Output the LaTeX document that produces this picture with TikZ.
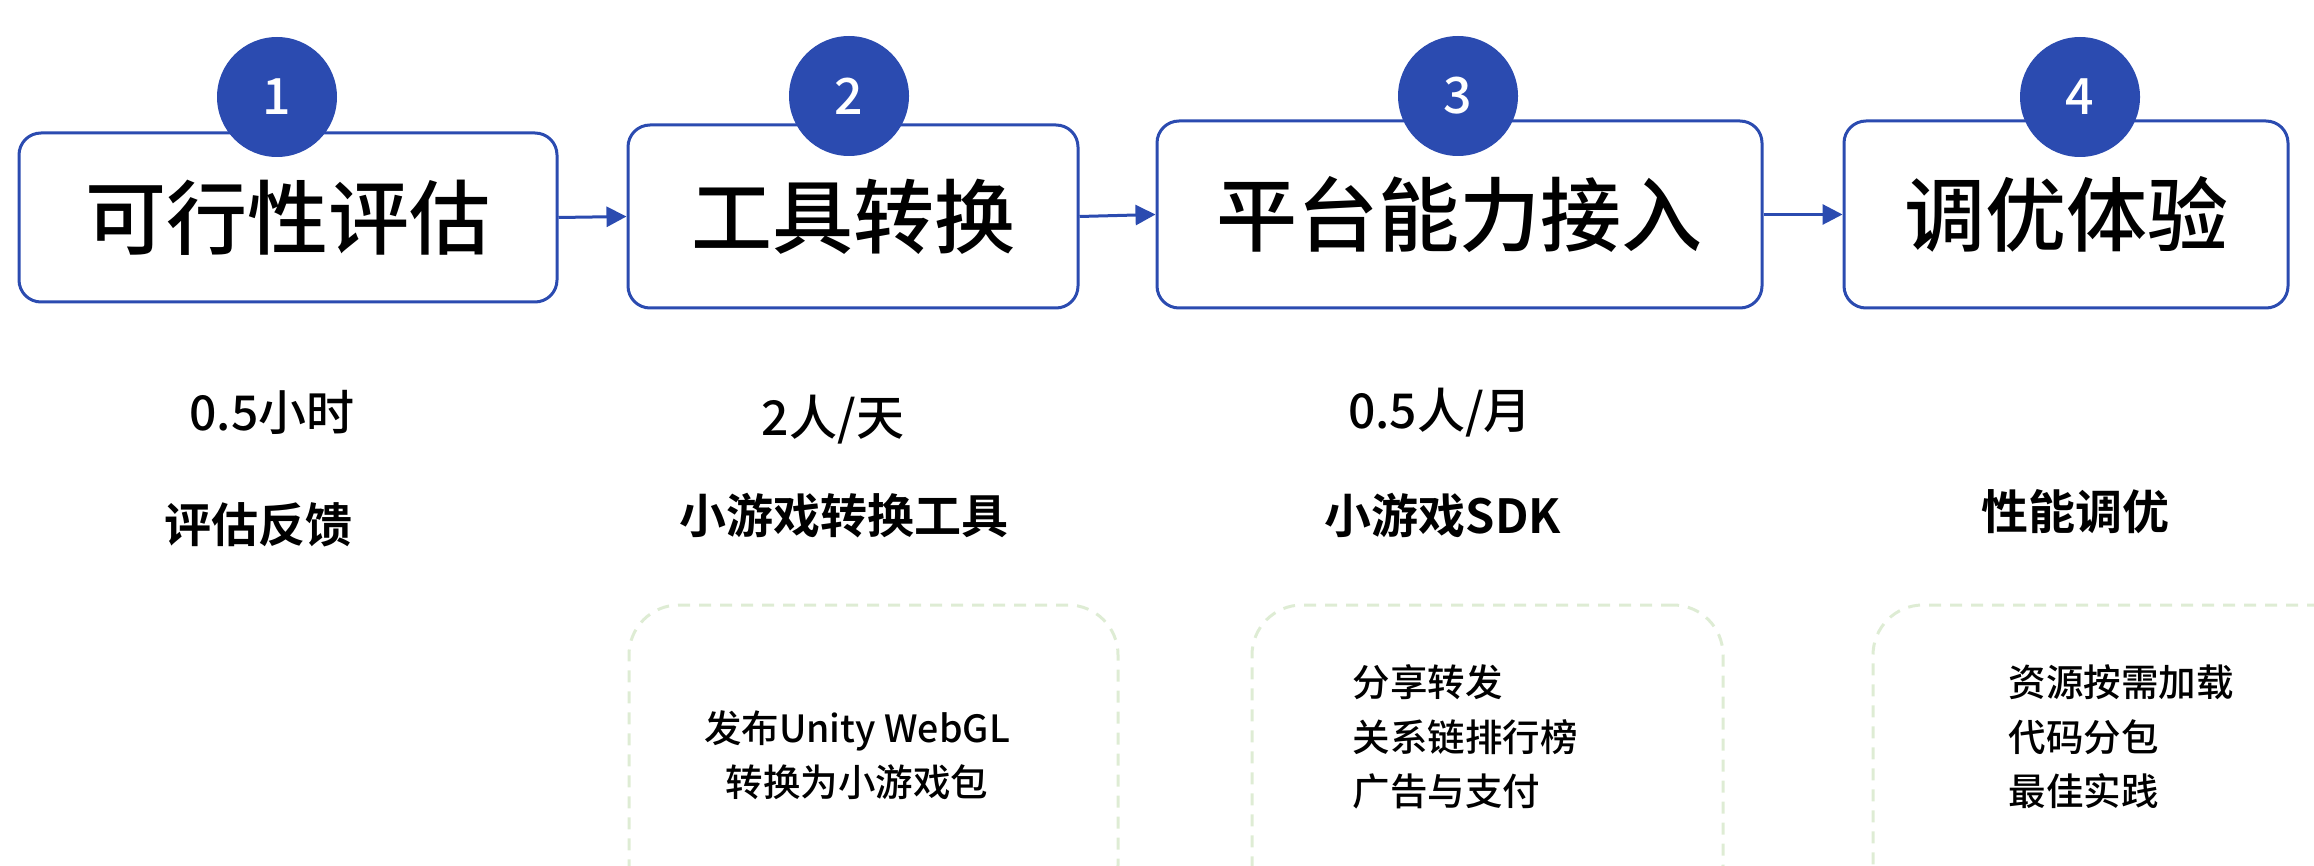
\documentclass[tikz,border=0pt]{standalone}
\usepackage{fontspec}
\setmainfont{Noto Sans CJK SC}[UprightFont={* Medium}, BoldFont={* Bold}]
\usetikzlibrary{arrows.meta}
\definecolor{azul}{RGB}{43,75,176}
\definecolor{verde}{RGB}{222,236,212}

\begin{document}
\begin{tikzpicture}[x=1pt, y=-1pt, >={Triangle[length=20pt, width=20pt]}, line width=3pt,
  paso/.style={draw=azul, rounded corners=22pt, inner sep=0pt, font=\fontsize{81}{97}\selectfont},
  num/.style={circle, fill=azul, text=white, minimum size=120pt, inner sep=0pt, font=\fontsize{50}{60}\selectfont},
  dato/.style={inner sep=0pt, font=\fontsize{48}{57}\selectfont},
  titulo/.style={inner sep=0pt, font=\fontsize{47}{56}\selectfont\bfseries},
  caja/.style={draw=verde, dash pattern=on 12pt off 9pt, rounded corners=50pt, minimum height=310pt},
  lista/.style={inner sep=0pt, font=\fontsize{37.5}{54.5}\selectfont}]
  \useasboundingbox (0,0) rectangle (2314,866);
  \clip (0,0) rectangle (2314,866);
  % pasos
  \node[paso, minimum width=538pt, minimum height=169pt] (b1) at (288,217.5) {可行性评估};
  \node[paso, minimum width=450pt, minimum height=183pt] (b2) at (853,216.5) {工具转换};
  \node[paso, minimum width=605pt, minimum height=187pt] (b3) at (1459.5,214.5) {平台能力接入};
  \node[paso, minimum width=444pt, minimum height=187pt] (b4) at (2066,214.5) {调优体验};
  \node[num] (c1) at (277,97) {1};
  \node[num] (c2) at (849,96) {2};
  \node[num] (c3) at (1458,96) {3};
  \node[num] (c4) at (2080,97) {4};
  \draw[->, azul] (b1.east) -- (b2.west);
  \draw[->, azul] (b2.east) -- (b3.west);
  \draw[->, azul] (b3.east) -- (b4.west);
  % tiempo y resultado
  \node[dato] (t1) at (272,412) {0.5小时};
  \node[dato] (t2) at (833,420) {2人/天};
  \node[dato] (t3) at (1440,413) {0.5人/月};
  \node[titulo] (s1) at (258,525) {评估反馈};
  \node[titulo] (s2) at (844,516) {小游戏转换工具};
  \node[titulo] (s3) at (1443,516) {小游戏SDK};
  \node[titulo] (s4) at (2075,512) {性能调优};
  % cajas de detalle
  \node[caja, minimum width=489pt] (k1) at (873.5,760) {};
  \node[caja, minimum width=471pt] (k2) at (1487.5,760) {};
  \node[caja, minimum width=496pt] (k3) at (2121,760) {};
  \node[lista, align=center] (l1) at (857,755) {发布Unity WebGL\\转换为小游戏包};
  \node[lista, align=left, anchor=west] (l2) at (1351,737) {分享转发\\关系链排行榜\\广告与支付};
  \node[lista, align=left, anchor=west] (l3) at (2007,737) {资源按需加载\\代码分包\\最佳实践};
\end{tikzpicture}
\end{document}
